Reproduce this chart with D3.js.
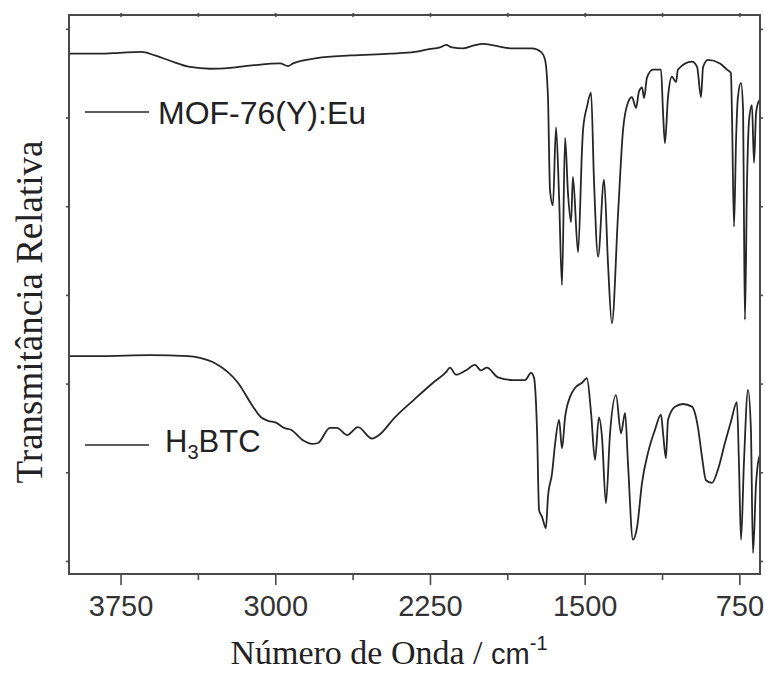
<!DOCTYPE html>
<html>
<head>
<meta charset="utf-8">
<script src="https://cdn.jsdelivr.net/npm/d3@7"></script>
<style>
  body { margin: 0; background: #fff; }
</style>
</head>
<body>
<div id="chart"></div>
<script>
// FTIR spectra: wavenumber (cm-1) and relative transmittance (a.u.)
var mofWave = [4000, 3850, 3753, 3651, 3583, 3510, 3413, 3316, 3219, 3103, 2977, 2938, 2914, 2798, 2633, 2444, 2323, 2255, 2201, 2172, 2143, 2090, 2041, 1993, 1935, 1852, 1755, 1712, 1692, 1678, 1668, 1654, 1639, 1624, 1610, 1595, 1581, 1566, 1557, 1532, 1513, 1508, 1489, 1469, 1455, 1435, 1406, 1387, 1368, 1338, 1314, 1290, 1271, 1251, 1237, 1222, 1212, 1198, 1169, 1130, 1120, 1111, 1096, 1077, 1057, 1048, 980, 955, 936, 926, 902, 844, 810, 791, 786, 776, 766, 757, 742, 732, 728, 723, 713, 703, 689, 679, 669, 660, 650];
var mofT = [5.72, 5.72, 5.73, 5.74, 5.70, 5.64, 5.57, 5.55, 5.56, 5.59, 5.61, 5.58, 5.61, 5.67, 5.70, 5.72, 5.74, 5.77, 5.79, 5.82, 5.79, 5.78, 5.81, 5.83, 5.81, 5.78, 5.78, 5.74, 5.65, 5.23, 4.18, 4.01, 4.89, 4.10, 3.11, 4.77, 4.15, 3.82, 4.33, 3.48, 4.63, 4.86, 5.12, 5.28, 4.30, 3.43, 4.30, 3.36, 2.68, 3.92, 4.86, 5.17, 5.23, 5.11, 5.29, 5.34, 5.22, 5.45, 5.54, 5.54, 5.05, 4.71, 5.23, 5.46, 5.40, 5.54, 5.63, 5.57, 5.23, 5.57, 5.65, 5.61, 5.54, 5.50, 5.05, 3.77, 4.75, 5.23, 5.39, 5.08, 3.96, 2.72, 4.26, 4.97, 5.14, 4.49, 5.05, 5.16, 5.20];

var btcWave = [4000, 3850, 3607, 3423, 3365, 3292, 3181, 3108, 3069, 3035, 2996, 2958, 2924, 2866, 2822, 2793, 2735, 2701, 2652, 2599, 2531, 2497, 2420, 2327, 2235, 2172, 2153, 2124, 2075, 2032, 2003, 1974, 1920, 1848, 1789, 1760, 1746, 1731, 1721, 1707, 1688, 1678, 1658, 1644, 1624, 1610, 1595, 1571, 1547, 1513, 1489, 1469, 1450, 1431, 1416, 1397, 1377, 1348, 1324, 1304, 1290, 1266, 1246, 1222, 1193, 1159, 1130, 1120, 1106, 1096, 1062, 1023, 980, 951, 931, 912, 883, 854, 820, 791, 762, 752, 742, 728, 708, 694, 684, 669, 660, 650];
var btcT = [2.31, 2.31, 2.32, 2.31, 2.29, 2.23, 2.01, 1.74, 1.62, 1.58, 1.56, 1.50, 1.48, 1.36, 1.32, 1.33, 1.50, 1.50, 1.42, 1.51, 1.38, 1.42, 1.62, 1.82, 2.01, 2.13, 2.18, 2.10, 2.15, 2.21, 2.15, 2.18, 2.07, 2.04, 2.04, 2.12, 2.07, 1.48, 0.57, 0.50, 0.37, 0.72, 0.99, 1.31, 1.59, 1.27, 1.62, 1.85, 1.95, 2.01, 2.06, 1.67, 1.14, 1.62, 1.40, 0.65, 1.44, 1.87, 1.44, 1.67, 1.10, 0.24, 0.38, 0.88, 1.22, 1.48, 1.65, 1.44, 1.16, 1.59, 1.74, 1.77, 1.74, 1.51, 1.17, 0.91, 0.88, 1.03, 1.33, 1.57, 1.79, 1.10, 0.24, 1.10, 1.93, 1.48, 0.09, 0.88, 1.10, 1.20];

var seriesNames = ["MOF-76(Y):Eu", "H3BTC"];
var xMajor = [3750, 3000, 2250, 1500, 750];
var xMinor = [3375, 2625, 1875, 1125];
var yTicks = [0, 1, 2, 3, 4, 5, 6];

function draw() {
    var w = 765;
    var h = 673;
    var left = 69, right = 760, top = 15, bottom = 574;
    var ink = "#262626";
    var axisInk = "#4a4a4a";

    var x = d3.scaleLinear().domain([4000, 650]).range([left, right]);
    var y = d3.scaleLinear().domain([-0.147, 6.156]).range([bottom, top]);

    var svg = d3.select("#chart")
        .append("svg")
        .attr("width", w)
        .attr("height", h);

    // spectra
    var line = d3.line()
        .x(function(d) { return x(d[0]); })
        .y(function(d) { return y(d[1]); })
        .curve(d3.curveMonotoneX);

    var series = [d3.zip(mofWave, mofT), d3.zip(btcWave, btcT)];

    svg.selectAll("path.spec")
        .data(series)
        .enter()
        .append("path")
        .attr("class", "spec")
        .attr("d", line)
        .attr("fill", "none")
        .attr("stroke", ink)
        .attr("stroke-width", 1.8)
        .attr("stroke-linejoin", "round");

    // axes: ticks outside at the bottom, tiny ones on the other sides
    var bottomAxis = svg.append("g")
        .attr("transform", "translate(0," + bottom + ")")
        .call(d3.axisBottom(x).tickValues(xMajor).tickSize(11).tickSizeOuter(0)
            .tickPadding(10).tickFormat(d3.format("d")));
    svg.append("g")
        .attr("transform", "translate(0," + bottom + ")")
        .call(d3.axisBottom(x).tickValues(xMinor).tickSize(6).tickSizeOuter(0).tickFormat(""));
    svg.append("g")
        .attr("transform", "translate(0," + (top - 2) + ")")
        .call(d3.axisBottom(x).tickValues(xMajor.concat(xMinor)).tickSize(4).tickSizeOuter(0).tickFormat(""));
    svg.append("g")
        .attr("transform", "translate(" + (left + 1) + ",0)")
        .call(d3.axisLeft(y).tickValues(yTicks).tickSize(4).tickSizeOuter(0).tickFormat(""));
    svg.append("g")
        .attr("transform", "translate(" + (right - 1) + ",0)")
        .call(d3.axisLeft(y).tickValues(yTicks).tickSize(-4).tickSizeOuter(0).tickFormat(""));

    svg.selectAll(".domain").remove();
    svg.selectAll(".tick line").attr("stroke", axisInk).attr("stroke-width", 1.6);

    bottomAxis.selectAll("text")
        .attr("font-family", "'Liberation Sans', Arial, sans-serif")
        .attr("font-size", "29px")
        .attr("fill", "#333");

    svg.append("rect")
        .attr("x", left)
        .attr("y", top)
        .attr("width", right - left)
        .attr("height", bottom - top)
        .attr("fill", "none")
        .attr("stroke", axisInk)
        .attr("stroke-width", 2);

    // legend labels
    var legend = [
        { name: seriesNames[0], ly: 112, ty: 124, tx: 158 },
        { name: seriesNames[1], ly: 445, ty: 452, tx: 165 }
    ];
    legend.forEach(function(d) {
        svg.append("line")
            .attr("x1", 85).attr("x2", 149)
            .attr("y1", d.ly).attr("y2", d.ly)
            .attr("stroke", ink)
            .attr("stroke-width", 1.6);
    });
    svg.append("text")
        .attr("x", legend[0].tx)
        .attr("y", legend[0].ty)
        .attr("font-family", "'Liberation Sans', Arial, sans-serif")
        .attr("font-size", "32px")
        .attr("fill", "#222")
        .text(legend[0].name);
    var t2 = svg.append("text")
        .attr("x", legend[1].tx)
        .attr("y", legend[1].ty)
        .attr("font-family", "'Liberation Sans', Arial, sans-serif")
        .attr("font-size", "31px")
        .attr("fill", "#222");
    t2.append("tspan").text("H");
    t2.append("tspan").attr("font-size", "20px").attr("dy", 7).text("3");
    t2.append("tspan").attr("dy", -7).text("BTC");

    // axis titles
    var xt = svg.append("text")
        .attr("x", 389)
        .attr("y", 664)
        .attr("text-anchor", "middle")
        .attr("font-family", "'Liberation Serif', 'Times New Roman', serif")
        .attr("font-size", "34px")
        .attr("fill", "#222");
    xt.append("tspan").text("Número de Onda / ");
    xt.append("tspan").attr("font-family", "'Liberation Sans', Arial, sans-serif").attr("font-size", "29px").text("cm");
    xt.append("tspan").attr("font-family", "'Liberation Sans', Arial, sans-serif").attr("font-size", "20px").attr("dy", -14).text("-1");

    svg.append("text")
        .attr("transform", "translate(42,312) rotate(-90)")
        .attr("text-anchor", "middle")
        .attr("font-family", "'Liberation Serif', 'Times New Roman', serif")
        .attr("font-size", "37px")
        .attr("fill", "#222")
        .text("Transmitância Relativa");
}

window.onload = draw;
</script>
</body>
</html>
